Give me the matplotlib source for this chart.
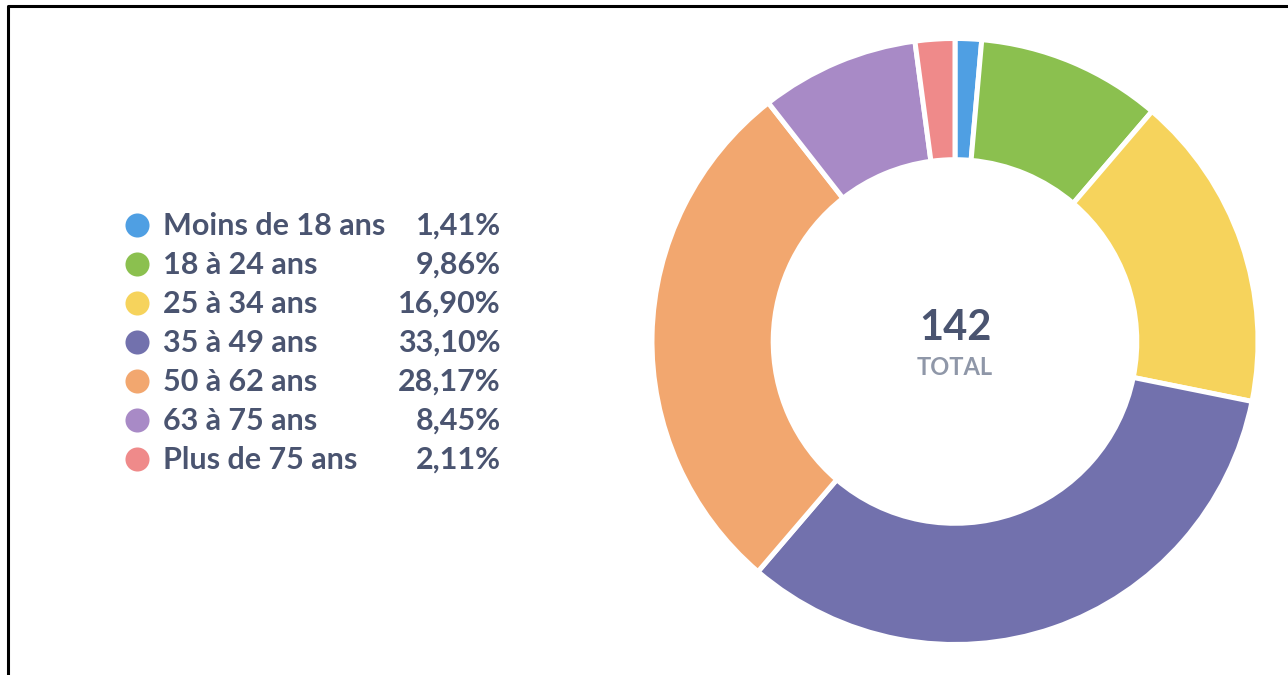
import matplotlib
matplotlib.use("Agg")
import matplotlib.pyplot as plt
from matplotlib.lines import Line2D

# données
labels = ["Moins de 18 ans", "18 à 24 ans", "25 à 34 ans", "35 à 49 ans",
          "50 à 62 ans", "63 à 75 ans", "Plus de 75 ans"]
counts = [2, 14, 24, 47, 40, 12, 3]
colors = ["#4f9fe3", "#8bc04f", "#f6d35c", "#7271ad",
          "#f2a76f", "#a88ac6", "#ef8a8a"]
total = sum(counts)

plt.rcParams["font.family"] = ["Lato", "DejaVu Sans"]
W, H = 1288, 675
fig = plt.figure(figsize=(W / 100, H / 100), dpi=100)
fig.patch.set_facecolor("white")

# anneau
cx, cy, R = 955, 341.5, 303
pad = 1.05
size = 2 * R * pad
ax = fig.add_axes([(cx - size / 2) / W, 1 - (cy + size / 2) / H, size / W, size / H])
ax.pie(counts, colors=colors, startangle=90, counterclock=False, radius=1,
       wedgeprops=dict(width=0.4, edgecolor="white", linewidth=3.6))
ax.set_xlim(-pad, pad)
ax.set_ylim(-pad, pad)
ax.set_aspect("equal")
ax.axis("off")
ax.text(0, 0.045, str(total), ha="center", va="center", fontsize=30,
        fontweight="bold", color="#4a5470")
ax.text(0, -0.085, "TOTAL", ha="center", va="center", fontsize=17,
        fontweight="bold", color="#8f97a8")

# légende + cadre en pixels
ov = fig.add_axes([0, 0, 1, 1], zorder=-1)
ov.set_xlim(0, W)
ov.set_ylim(H, 0)
ov.axis("off")
ov.add_line(Line2D([8, 8, W + 5], [H + 5, 5.5, 5.5], color="black", linewidth=2.2))

y0, dy = 225, 39.0
for i, (lab, n, col) in enumerate(zip(labels, counts, colors)):
    y = y0 + i * dy
    ov.scatter([137], [y], s=300, color=col, linewidths=0, zorder=3)
    ov.text(163, y + 1, lab, ha="left", va="center", fontsize=22,
            fontweight="bold", color="#4a5470")
    pct = f"{100 * n / total:.2f}".replace(".", ",") + "%"
    ov.text(501, y + 1, pct, ha="right", va="center", fontsize=22,
            fontweight="bold", color="#4a5470")

fig.savefig("out.png", dpi=100, facecolor="white")
